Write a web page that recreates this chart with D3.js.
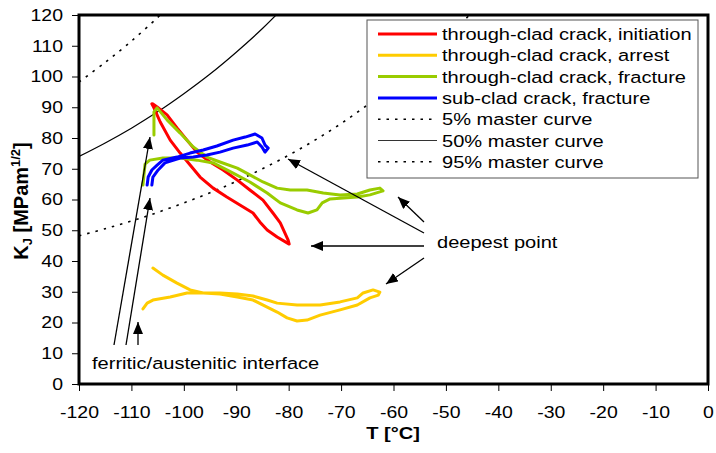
<!DOCTYPE html>
<html>
<head>
<meta charset="utf-8">
<script src="https://cdn.jsdelivr.net/npm/d3@7"></script>
<style>
	body { margin: 0; background: #fff; }
	svg { display: block; font-family: "Liberation Sans", Arial, sans-serif; }
</style>
</head>
<body>
<div id="chart"></div>
<script>
'use strict';

// [T (°C), KJ (MPa m^1/2)]
var initiation = [
	[-105.9, 91.1], [-105.1, 90.1], [-103.2, 87.5], [-101.3, 83.3], [-99.4, 79.3], [-97.5, 75.4],
	[-95.0, 72.2], [-92.5, 69.6], [-89.8, 66.3], [-87.4, 63.1], [-84.9, 59.8], [-83.0, 55.6],
	[-81.6, 52.4], [-80.1, 46.8], [-79.9, 45.5], [-80.3, 45.9], [-82.2, 47.8], [-84.1, 50.1],
	[-85.5, 52.7], [-86.8, 55.6], [-89.3, 58.2], [-91.8, 60.8], [-94.4, 63.7], [-96.9, 67.3],
	[-98.8, 71.2], [-100.7, 75.1], [-102.6, 79.3], [-104.5, 85.2], [-105.7, 89.8], [-106.1, 91.1]
];

var arrest = [
	[-105.9, 37.7], [-104.0, 35.4], [-101.3, 32.8], [-98.8, 30.6], [-96.3, 29.6], [-93.1, 29.6],
	[-89.8, 29.3], [-86.8, 28.6], [-84.1, 27.3], [-82.2, 26.3], [-78.4, 25.7], [-74.0, 25.7],
	[-70.2, 26.7], [-66.9, 28.0], [-65.8, 29.6], [-63.9, 30.6], [-62.6, 29.9], [-62.9, 28.9],
	[-64.5, 28.0], [-66.9, 25.7], [-70.2, 24.1], [-74.0, 22.4], [-76.5, 20.8], [-78.4, 20.5],
	[-80.3, 21.5], [-82.2, 23.4], [-84.1, 25.0], [-86.8, 27.3], [-89.8, 28.3], [-93.1, 29.3],
	[-96.3, 29.6], [-99.4, 29.6], [-102.6, 28.3], [-105.9, 27.3], [-107.0, 26.3], [-107.8, 24.4]
];

var fracture = [
	[-105.7, 81.0], [-105.7, 88.5], [-105.1, 89.8], [-103.2, 85.9], [-100.7, 81.6], [-98.2, 77.1],
	[-95.6, 73.8], [-93.1, 72.2], [-89.8, 70.2], [-87.4, 68.0], [-84.9, 65.7], [-82.2, 63.7],
	[-79.7, 63.1], [-76.5, 63.1], [-73.4, 62.1], [-70.2, 61.5], [-66.9, 61.8], [-64.5, 63.1],
	[-62.6, 63.7], [-62.0, 62.8], [-64.5, 61.5], [-66.9, 60.8], [-72.1, 60.2], [-73.6, 58.9],
	[-74.6, 56.6], [-76.3, 55.6], [-78.4, 56.6], [-81.6, 58.9], [-84.1, 62.1], [-87.4, 65.7],
	[-90.6, 68.6], [-94.4, 71.9], [-97.5, 72.8], [-100.7, 73.5], [-104.0, 73.5], [-106.5, 72.8],
	[-107.4, 71.5], [-107.8, 64.7]
];

var subClad = [
	[-107.0, 64.7], [-106.8, 67.3], [-106.1, 69.6], [-105.1, 71.2], [-104.0, 72.8], [-101.3, 73.8],
	[-98.8, 75.1], [-96.3, 76.1], [-93.7, 77.4], [-90.6, 79.3], [-88.3, 80.3], [-86.4, 81.3],
	[-85.1, 80.0], [-84.5, 77.7], [-83.9, 76.7], [-84.5, 75.4], [-85.1, 77.1], [-86.0, 78.7],
	[-87.9, 77.7], [-90.6, 76.7], [-93.1, 75.4], [-95.6, 74.5], [-98.2, 73.8], [-100.7, 73.5],
	[-103.6, 71.9], [-104.9, 69.6], [-105.9, 67.3], [-106.1, 64.7]
];

var master5 = [
	[-120, 48.2], [-115, 50.5], [-110, 53.0], [-105, 55.8], [-100, 58.9], [-95, 62.2], [-90, 65.9],
	[-85, 70.0], [-80, 74.4], [-75, 79.3], [-70, 84.7], [-65, 90.7], [-60, 97.2], [-55, 104.4],
	[-50, 112.3], [-45, 120.9]
];
var master50 = [
	[-120, 74.0], [-115, 78.4], [-110, 83.2], [-105, 88.5], [-100, 94.4], [-95, 100.8],
	[-90, 107.9], [-85, 115.6], [-80, 124.2]
];
var master95 = [
	[-120, 98.2], [-115, 104.6], [-110, 111.5], [-105, 119.2], [-104, 120.9]
];

var xTickValues = [-120, -110, -100, -90, -80, -70, -60, -50, -40, -30, -20, -10, 0];
var yTickValues = [0, 10, 20, 30, 40, 50, 60, 70, 80, 90, 100, 110, 120];

var legendLabels = [
	'through-clad crack, initiation',
	'through-clad crack, arrest',
	'through-clad crack, fracture',
	'sub-clad crack, fracture',
	'5% master curve',
	'50% master curve',
	'95% master curve'
];

var width = 716, height = 453;
var plotLeft = 79, plotRight = 708, plotTop = 15, plotBottom = 384;
var stretch = 1.18;

var svg = d3.select('#chart').append('svg')
	.attr('width', width)
	.attr('height', height);

var defs = svg.append('defs');
defs.append('clipPath').attr('id', 'plot-clip')
	.append('rect')
	.attr('x', plotLeft).attr('y', plotTop)
	.attr('width', plotRight - plotLeft).attr('height', plotBottom - plotTop);
defs.append('marker')
	.attr('id', 'head')
	.attr('viewBox', '0 0 12 10')
	.attr('refX', 12).attr('refY', 5)
	.attr('markerWidth', 12).attr('markerHeight', 10)
	.attr('markerUnits', 'userSpaceOnUse')
	.attr('orient', 'auto')
	.append('path')
	.attr('d', 'M0,0L12,5L0,10z')
	.attr('fill', '#000');

var x = d3.scaleLinear().domain([-120, 0]).range([plotLeft, plotRight]);
var y = d3.scaleLinear().domain([0, 120]).range([plotBottom, plotTop]);

var line = d3.line()
	.x(function (d) { return x(d[0]); })
	.y(function (d) { return y(d[1]); });
var smooth = d3.line()
	.x(function (d) { return x(d[0]); })
	.y(function (d) { return y(d[1]); })
	.curve(d3.curveCatmullRom);

// wide text like the original scan
function stretchText(sel) {
	sel.attr('transform', function () {
		var tx = +this.getAttribute('x') || 0;
		var ty = +this.getAttribute('y') || 0;
		return 'translate(' + tx + ',' + ty + ') scale(' + stretch + ',1)';
	}).attr('x', 0).attr('y', 0);
}

function label(x0, y0, str, size, anchor) {
	var t = svg.append('text')
		.attr('x', x0).attr('y', y0)
		.attr('font-size', size)
		.attr('text-anchor', anchor || 'start')
		.attr('fill', '#000')
		.text(str);
	stretchText(t);
	return t;
}

// axes
var xAxis = svg.append('g')
	.attr('transform', 'translate(0,' + plotBottom + ')')
	.call(d3.axisBottom(x).tickValues(xTickValues).tickSize(7).tickPadding(15));
var yAxis = svg.append('g')
	.attr('transform', 'translate(' + plotLeft + ',0)')
	.call(d3.axisLeft(y).tickValues(yTickValues).tickSize(7).tickPadding(9));

[xAxis, yAxis].forEach(function (g) {
	g.select('.domain').remove();
	g.selectAll('.tick line').attr('stroke', '#000').attr('stroke-width', 1);
	g.selectAll('.tick text')
		.attr('font-size', 16.5)
		.attr('font-family', '"Liberation Sans", Arial, sans-serif')
		.attr('fill', '#000')
		.text(function (d) { return String(d).replace('\u2212', '-'); });
	stretchText(g.selectAll('.tick text'));
});

// master curves
var plot = svg.append('g').attr('clip-path', 'url(#plot-clip)');
var masters = [
	{ data: master5, dash: '2.5,6' },
	{ data: master50, dash: null },
	{ data: master95, dash: '2.5,6' }
];
masters.forEach(function (m) {
	plot.append('path')
		.attr('d', smooth(m.data))
		.attr('fill', 'none')
		.attr('stroke', '#000')
		.attr('stroke-width', m.dash ? 1.6 : 1.2)
		.attr('stroke-dasharray', m.dash);
});

// measured curves
var series = [
	{ data: initiation, color: '#ff0000' },
	{ data: arrest, color: '#ffcc00' },
	{ data: fracture, color: '#99cc00' },
	{ data: subClad, color: '#0000ff' }
];
plot.selectAll('path.series')
	.data(series)
	.enter()
	.append('path')
	.attr('class', 'series')
	.attr('d', function (s) { return line(s.data); })
	.attr('fill', 'none')
	.attr('stroke', function (s) { return s.color; })
	.attr('stroke-width', 3)
	.attr('stroke-linejoin', 'round')
	.attr('stroke-linecap', 'round');

// legend
var legend = svg.append('g');
legend.append('rect')
	.attr('x', 367).attr('y', 20)
	.attr('width', 331).attr('height', 158)
	.attr('fill', '#fff')
	.attr('stroke', '#555')
	.attr('stroke-width', 1);

var legendStyles = [
	{ color: '#ff0000', width: 3, dash: null },
	{ color: '#ffcc00', width: 3, dash: null },
	{ color: '#99cc00', width: 3, dash: null },
	{ color: '#0000ff', width: 3, dash: null },
	{ color: '#000', width: 1.6, dash: '2.5,6' },
	{ color: '#333', width: 1.2, dash: null },
	{ color: '#000', width: 1.6, dash: '2.5,6' }
];
legendLabels.forEach(function (name, i) {
	var cy = 34 + i * 21.3;
	legend.append('line')
		.attr('x1', 378).attr('x2', 437)
		.attr('y1', cy).attr('y2', cy)
		.attr('stroke', legendStyles[i].color)
		.attr('stroke-width', legendStyles[i].width)
		.attr('stroke-dasharray', legendStyles[i].dash);
	label(442, cy + 6, name, 17);
});

// frame
svg.append('rect')
	.attr('x', plotLeft).attr('y', plotTop)
	.attr('width', plotRight - plotLeft).attr('height', plotBottom - plotTop)
	.attr('fill', 'none')
	.attr('stroke', '#000')
	.attr('stroke-width', 3);

// annotations
var arrows = [
	[424, 222, 398, 197],
	[424, 233, 288, 159],
	[424, 246, 311, 246],
	[424, 258, 386, 284],
	[114, 345, 150, 137],
	[126, 345, 150, 198],
	[138, 345, 138, 322]
];
arrows.forEach(function (a) {
	svg.append('line')
		.attr('x1', a[0]).attr('y1', a[1])
		.attr('x2', a[2]).attr('y2', a[3])
		.attr('stroke', '#000')
		.attr('stroke-width', 1.3)
		.attr('marker-end', 'url(#head)');
});
label(437, 248, 'deepest point', 17);
label(92, 369, 'ferritic/austenitic interface', 17);

// axis titles
label(393, 439, 'T [\u00b0C]', 17, 'middle').attr('font-weight', 'bold');

var yTitle = svg.append('text')
	.attr('transform', 'translate(28,201) scale(1.05,1) rotate(-90)')
	.attr('text-anchor', 'middle')
	.attr('font-size', 20)
	.attr('font-weight', 'bold');
yTitle.append('tspan').text('K');
yTitle.append('tspan').attr('font-size', 13).attr('dy', 4).text('J');
yTitle.append('tspan').attr('dy', -4).text(' [MPam');
yTitle.append('tspan').attr('font-size', 13).attr('dy', -8).text('1/2');
yTitle.append('tspan').attr('dy', 8).text(']');
</script>
</body>
</html>
